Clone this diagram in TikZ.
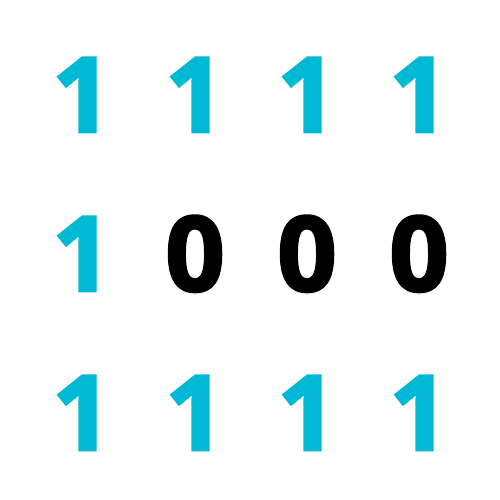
\documentclass[tikz,border=0pt]{standalone}
\usepackage{fontspec}
\setmainfont{Open Sans}[BoldFeatures={FakeBold=2.5}]
\definecolor{cyanA}{RGB}{0,185,212}
\begin{document}
\begin{tikzpicture}[x=1pt,y=-1pt,
  dig/.style={inner sep=0pt,anchor=base,font=\fontsize{104}{104}\selectfont\bfseries}]
\useasboundingbox (0,0) rectangle (500,500);
\fill[white] (0,0) rectangle (500,500);
\foreach \c/\x in {1/82,2/195,3/307,4/419}{
  \node[dig,text=cyanA] (a\c) at (\x,132) {1};
  \node[dig,text=cyanA] (c\c) at (\x,450) {1};
}
\node[dig,text=cyanA] (b1) at (82,291) {1};
\node[dig,text=black] (b2) at (195,291) {0};
\node[dig,text=black] (b3) at (307,291) {0};
\node[dig,text=black] (b4) at (419,291) {0};
\end{tikzpicture}
\end{document}
